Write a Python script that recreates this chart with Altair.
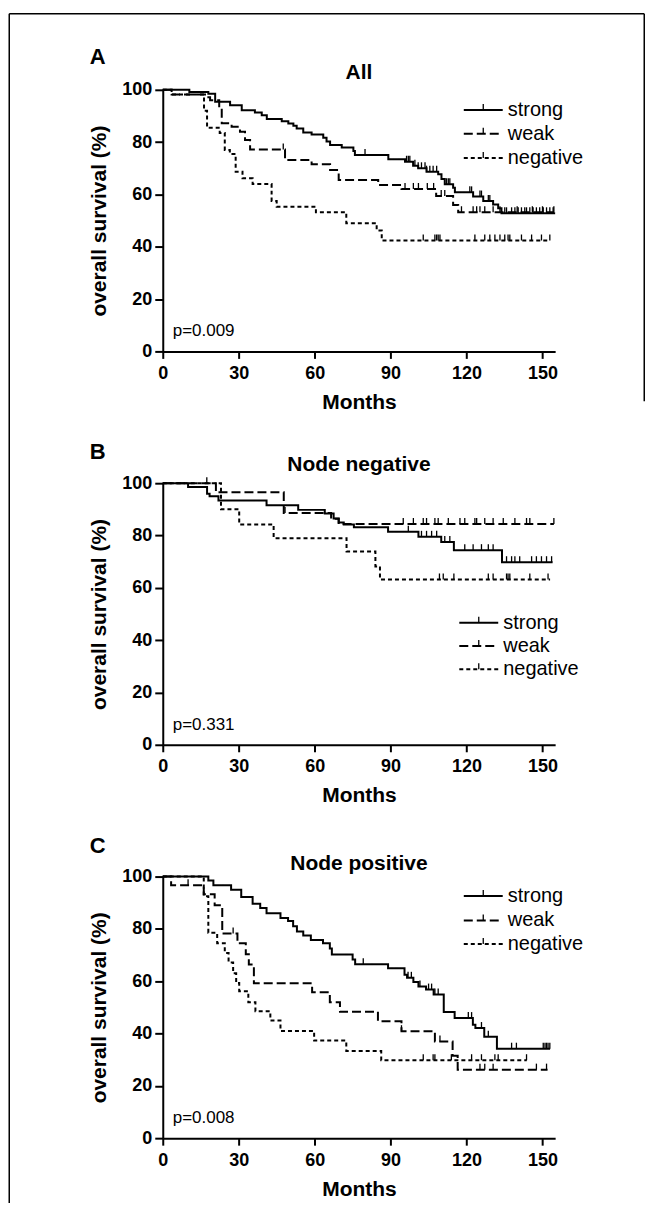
import altair as alt
import pandas as pd

FONT = "Liberation Sans, Arial, Helvetica, sans-serif"
GROUPS = ["strong", "weak", "negative"]
DASHES = [[1, 0], [9, 4], [4, 3]]

PANEL_LETTERS = ["A", "B", "C"]
PANEL_TITLES = ["All", "Node negative", "Node positive"]
P_VALUES = ["p=0.009", "p=0.331", "p=0.008"]
X_TICKS = [0, 30, 60, 90, 120, 150]
Y_TICKS = [0, 20, 40, 60, 80, 100]

# ---------- Panel A : All ----------
A_strong_t = [0, 10.5, 18, 20.7, 26.6, 31.2, 36.4, 39.1, 41.1, 47, 49.6, 51.6, 52.9, 55.5, 58.8, 63.4, 64.7,
              66.1, 70.7, 75.3, 75.9, 89.1, 95.7, 98.9, 100.9, 104.2, 108.8, 110.1, 111.4, 114.7, 115.4, 122.6,
              126.6, 130.5, 132.5, 133.8, 155]
A_strong_s = [100, 99.2, 98.5, 95.4, 94.1, 92.2, 91.3, 90.3, 88.8, 88.0, 87.1, 86.3, 85.2, 83.7, 82.9, 81.7, 80.2,
              78.9, 77.9, 76.6, 75.1, 73.5, 72.5, 71.0, 70.0, 68.7, 67.7, 65.9, 63.9, 62.6, 60.8, 59.2,
              57.5, 56.2, 54.7, 52.8, 52.8]
A_strong_c = [79.9, 96.3, 97.0, 97.6, 99.6, 100.9, 102.2, 103.6, 104.2, 105.5, 106.8, 108.2, 112.1, 112.8, 113.4,
              121.3, 122.0, 125.3, 125.9, 128.6, 129.2, 135.1, 135.8, 137.8, 139.1, 140.4, 141.7, 143.0, 143.7,
              145.0, 146.3, 147.6, 148.9, 150.3, 151.6, 152.9, 154.2]

A_weak_t = [0, 3.5, 16.7, 18.7, 22.3, 23.3, 27.2, 30.5, 32.5, 34.5, 48.3, 58.8, 66.1, 69.5, 85.1, 94.3, 108,
            114.7, 116.7, 154.5]
A_weak_s = [100, 98.2, 97.2, 96.0, 92.9, 87.2, 85.9, 84.0, 80.8, 77.2, 73.2, 71.5, 69.3, 65.5, 63.6, 62.1, 59.4,
            56.0, 53.2, 53.2]
A_weak_c = [47.6, 95.7, 99.0, 101.0, 104.5, 107.0, 110.0, 111.4, 118.0, 122.6, 124.0, 125.3, 127.2, 130.5,
            133.2, 140.0, 146.0, 150.0, 154.5]

A_neg_t = [0, 3.5, 16.3, 17.5, 22.5, 24.5, 26.5, 28.8, 31.5, 35.5, 43, 45, 60.5, 72.5, 84.5, 86.5, 153]
A_neg_s = [100, 98.2, 92.0, 85.5, 83.5, 77.0, 75.5, 68.7, 66.2, 64.0, 57.5, 55.3, 53.2, 49.0, 46.2, 42.4, 42.4]
A_neg_c = [102.9, 107.5, 108.2, 108.8, 109.5, 123.3, 127.2, 129.2, 131.2, 133.2, 135.1, 136.4, 137.1, 141.7,
           145.7, 149.6, 152.9]

# ---------- Panel B : Node negative ----------
B_strong_t = [0, 10, 17.5, 18.5, 22, 41, 53.5, 64, 67.5, 69.5, 71.5, 75.5, 89, 101, 110, 115, 134, 154]
B_strong_s = [100, 98.5, 96.0, 95.0, 93.4, 91.6, 89.8, 88.4, 86.5, 85.0, 84.2, 83.2, 81.4, 79.5, 77.5, 74.4,
              69.8, 69.8]
B_strong_c = [97.0, 102.2, 104.2, 106.2, 108.2, 111.4, 113.4, 119.3, 122.6, 125.9, 128.6, 130.5, 135.8, 137.8,
              139.1, 141.0, 145.7, 147.6, 149.6, 151.6, 153.6]

B_weak_t = [0, 21, 47.8, 66.5, 69.5, 154.5]
B_weak_s = [100, 96.5, 88.6, 86.4, 84.4, 84.4]
B_weak_c = [17.4, 48.3, 95.0, 99.0, 102.9, 104.2, 107.5, 108.8, 112.8, 117.4, 119.3, 123.3, 124.0, 127.2,
            130.5, 134.5, 139.1, 143.7, 145.0, 154.5]

B_neg_t = [0, 23, 30.2, 43.8, 72.6, 84, 85.8, 153]
B_neg_s = [100, 90.0, 84.2, 79.0, 73.9, 68.2, 63.2, 63.2]
B_neg_c = [109.3, 110.8, 115.0, 128.6, 130.5, 135.8, 136.4, 137.1, 145.0, 152.2]

# ---------- Panel C : Node positive ----------
C_strong_t = [0, 18, 20, 27, 31, 35.5, 38.5, 41, 46.5, 49.5, 51.5, 53, 55.5, 58.5, 63.3, 66, 66.8, 75, 76, 89,
              95.5, 96.5, 99, 101, 104, 107, 111, 115.3, 122.5, 123.5, 127, 132, 153]
C_strong_s = [100, 98.5, 96.7, 95.0, 92.2, 89.6, 88.0, 86.0, 84.2, 83.0, 81.0, 79.0, 77.5, 75.8, 74.5, 72.5,
              70.2, 68.3, 66.5, 65.0, 62.5, 61.3, 59.7, 58.0, 56.8, 54.9, 48.2, 45.9, 43.4, 42.1, 38.8, 34.2, 34.2]
C_strong_c = [79.2, 96.9, 98.2, 101.6, 105.0, 106.2, 107.5, 108.8, 120.7, 122.0, 125.9, 128.6, 137.8, 139.7,
              150.3, 151.0, 151.6, 152.2, 152.9]

C_weak_t = [0, 3.3, 16.2, 20.5, 23.5, 29.5, 32.8, 34, 36, 59, 66, 70, 85, 94.3, 107.5, 114.5, 116.5, 152]
C_weak_s = [100, 96.7, 93.2, 89.0, 78.2, 74.5, 70.3, 66.4, 59.2, 55.8, 52.0, 48.3, 44.7, 40.9, 37.0, 31.5,
            26.2, 26.2]
C_weak_c = [10.0, 27.8, 94.3, 109.5, 125.3, 127.2, 130.5, 147.6, 151.6]

C_neg_t = [0, 16.2, 18, 21.5, 24.5, 26, 27.8, 29, 30.2, 33.8, 36.6, 42.5, 46.5, 59.8, 72.5, 86.3, 143.8]
C_neg_s = [100, 92.5, 78.5, 74.5, 70.8, 67.2, 63.0, 59.3, 56.2, 52.0, 48.5, 45.0, 41.0, 37.3, 33.3, 29.8, 29.8]
C_neg_c = [102.9, 106.8, 107.5, 114.0, 122.0, 125.9, 131.2, 132.5, 143.7]

PANELS = [
    {"strong": (A_strong_t, A_strong_s, A_strong_c), "weak": (A_weak_t, A_weak_s, A_weak_c),
     "negative": (A_neg_t, A_neg_s, A_neg_c)},
    {"strong": (B_strong_t, B_strong_s, B_strong_c), "weak": (B_weak_t, B_weak_s, B_weak_c),
     "negative": (B_neg_t, B_neg_s, B_neg_c)},
    {"strong": (C_strong_t, C_strong_s, C_strong_c), "weak": (C_weak_t, C_weak_s, C_weak_c),
     "negative": (C_neg_t, C_neg_s, C_neg_c)},
]

# layout (pixels, relative to each plot area)
W, H = 393, 262
LEGEND_X = [301.5, 297, 301.5]
LEGEND_ROWS = [[20.3, 44.0, 68.3], [139.7, 163.0, 186.3], [19.5, 44.0, 67.5]]
SYMBOL_LEN = 39
TITLE_Y = [-11, -12, -7]
LETTER_Y = [-26, -24.5, -24]


def surv_at(times, survs, t):
    s = survs[0]
    for ti, si in zip(times, survs):
        if ti <= t:
            s = si
        else:
            break
    return s


def make_panel(i):
    curves = PANELS[i]
    line_rows, cens_rows = [], []
    for g in GROUPS:
        t, s, c = curves[g]
        for ti, si in zip(t, s):
            line_rows.append({"month": ti, "surv": si, "group": g})
        for ci in c:
            cens_rows.append({"month": ci, "surv": surv_at(t, s, ci), "group": g})
    line_df = pd.DataFrame(line_rows)
    cens_df = pd.DataFrame(cens_rows)

    xscale = alt.Scale(domain=[0, 155], nice=False, zero=False)
    yscale = alt.Scale(domain=[0, 100], nice=False)
    xaxis = alt.Axis(values=X_TICKS, title="Months", tickSize=7, labelPadding=6, labelFlush=False,
                     labelFontSize=18, labelFontWeight="bold", titleFontSize=21, titleFontWeight="bold",
                     titleY=51, titleBaseline="middle", domainWidth=2, tickWidth=2, domainColor="black",
                     tickColor="black", labelColor="black", titleColor="black", grid=False)
    yaxis = alt.Axis(values=Y_TICKS, title="overall survival (%)", tickSize=8, labelPadding=3,
                     labelFlush=False, labelFontSize=18, labelFontWeight="bold", titleFontSize=21,
                     titleFontWeight="bold", titleX=-63, titleBaseline="middle", domainWidth=2, tickWidth=2,
                     domainColor="black", tickColor="black", labelColor="black", titleColor="black",
                     grid=False)

    lines = alt.Chart(line_df).mark_line(interpolate="step-after", strokeWidth=2, color="black").encode(
        x=alt.X("month:Q", scale=xscale, axis=xaxis),
        y=alt.Y("surv:Q", scale=yscale, axis=yaxis),
        strokeDash=alt.StrokeDash("group:N", scale=alt.Scale(domain=GROUPS, range=DASHES), legend=None),
    )
    ticks = alt.Chart(cens_df).mark_tick(orient="vertical", size=6, thickness=1.3, yOffset=-3,
                                         color="black", opacity=1).encode(
        x=alt.X("month:Q", scale=xscale),
        y=alt.Y("surv:Q", scale=yscale),
    )
    txt_df = pd.DataFrame({"letter": [PANEL_LETTERS[i]], "title": [PANEL_TITLES[i]], "p": [P_VALUES[i]]})
    letter = alt.Chart(txt_df).mark_text(align="left", baseline="alphabetic", fontSize=22,
                                         fontWeight="bold", color="black").encode(
        text="letter:N", x=alt.value(-73), y=alt.value(LETTER_Y[i]))
    title = alt.Chart(txt_df).mark_text(align="center", baseline="alphabetic", fontSize=21,
                                        fontWeight="bold", color="black").encode(
        text="title:N", x=alt.value(W / 2), y=alt.value(TITLE_Y[i]))
    pval = alt.Chart(txt_df).mark_text(align="left", baseline="alphabetic", fontSize=17,
                                       color="black").encode(
        text="p:N", x=alt.value(10), y=alt.value(H - 15))
    layers = [lines, ticks, letter, title, pval]

    # legend drawn as small marks: line sample with a censor tick, then the label
    lx = LEGEND_X[i]
    for j, g in enumerate(GROUPS):
        ry = LEGEND_ROWS[i][j]
        ldf = pd.DataFrame({"label": [g]})
        layers.append(alt.Chart(ldf).mark_rule(color="black", strokeWidth=2, strokeDash=DASHES[j]).encode(
            x=alt.value(lx), x2=alt.value(lx + SYMBOL_LEN), y=alt.value(ry)))
        layers.append(alt.Chart(ldf).mark_rule(color="black", strokeWidth=1.3).encode(
            x=alt.value(lx + SYMBOL_LEN / 2), y=alt.value(ry - 6), y2=alt.value(ry)))
        layers.append(alt.Chart(ldf).mark_text(align="left", baseline="middle", fontSize=20,
                                               color="black").encode(
            text="label:N", x=alt.value(lx + SYMBOL_LEN + 5), y=alt.value(ry)))

    if i == 0:
        frame_df = pd.DataFrame({"k": [0]})
        base = alt.Chart(frame_df).mark_rule(color="black", strokeWidth=1.5)
        layers += [
            base.encode(x=alt.value(-153.75), y=alt.value(-76.3), y2=alt.value(1115)),
            base.encode(x=alt.value(-153.75), x2=alt.value(482.25), y=alt.value(-76.3)),
            base.encode(x=alt.value(482.25), y=alt.value(-76.3), y2=alt.value(312)),
        ]
    return alt.layer(*layers).properties(width=W, height=H)


chart = alt.vconcat(
    make_panel(0), make_panel(1), make_panel(2),
    spacing=132, bounds="flush",
    padding={"left": 0, "top": 3, "right": 0, "bottom": 0},
).configure(font=FONT).configure_view(strokeWidth=0)

chart.save("out.html", embed_options={"renderer": "svg", "actions": False})
